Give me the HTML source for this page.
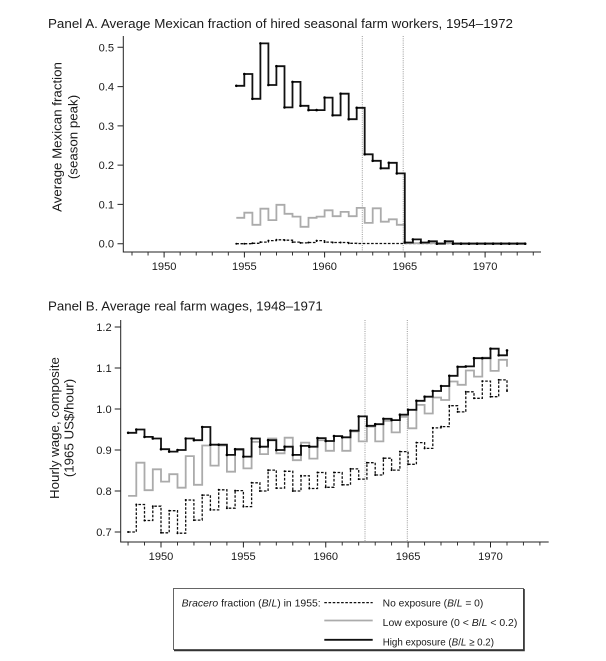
<!DOCTYPE html>
<html>
<head>
<meta charset="utf-8">
<style>
html,body{margin:0;padding:0;background:#fff;}
svg{display:block;font-family:"Liberation Sans",Arial,sans-serif;}
</style>
</head>
<body>
<svg width="606" height="661" viewBox="0 0 606 661" xmlns="http://www.w3.org/2000/svg">
<rect width="606" height="661" fill="#fff"/>

<!-- ===== Panel A ===== -->
<text x="48" y="28" font-size="13.3" fill="#1a1a1a" textLength="465" lengthAdjust="spacingAndGlyphs">Panel A. Average Mexican fraction of hired seasonal farm workers, 1954–1972</text>

<text transform="translate(61.5,137) rotate(-90)" text-anchor="middle" font-size="13.3" fill="#1a1a1a">Average Mexican fraction</text>
<text transform="translate(77.5,137) rotate(-90)" text-anchor="middle" font-size="13.3" fill="#1a1a1a">(season peak)</text>

<!-- reference lines -->
<path d="M362.3,36V251 M403.2,36V251" stroke="#9a9a9a" stroke-width="1" stroke-dasharray="1,1.2" fill="none"/>

<!-- axes -->
<path d="M123.3,36V252H541" stroke="#222" stroke-width="1" fill="none"/>
<path d="M117.5,243.7H123.3M117.5,204.4H123.3M117.5,165.1H123.3M117.5,125.9H123.3M117.5,86.6H123.3M117.5,47.3H123.3" stroke="#222" stroke-width="1"/>
<path d="M164.1,252V257.5M244.4,252V257.5M324.6,252V257.5M404.9,252V257.5M485.1,252V257.5" stroke="#222" stroke-width="1"/>
<path d="M132,252V255.5M148.05,252V255.5M180.15,252V255.5M196.2,252V255.5M212.25,252V255.5M228.3,252V255.5M260.4,252V255.5M276.45,252V255.5M292.5,252V255.5M308.55,252V255.5M340.65,252V255.5M356.7,252V255.5M372.75,252V255.5M388.8,252V255.5M420.9,252V255.5M436.95,252V255.5M453,252V255.5M469.05,252V255.5M501.15,252V255.5M517.2,252V255.5M533.25,252V255.5" stroke="#222" stroke-width="0.9"/>

<g font-size="11.1" fill="#1a1a1a" text-anchor="end">
<text x="114" y="247.7">0.0</text>
<text x="114" y="208.4">0.1</text>
<text x="114" y="169.1">0.2</text>
<text x="114" y="129.9">0.3</text>
<text x="114" y="90.6">0.4</text>
<text x="114" y="51.3">0.5</text>
</g>
<g font-size="11.1" fill="#1a1a1a" text-anchor="middle">
<text x="164.1" y="270">1950</text>
<text x="244.4" y="270">1955</text>
<text x="324.6" y="270">1960</text>
<text x="404.9" y="270">1965</text>
<text x="485.1" y="270">1970</text>
</g>

<!-- series A -->
<path d="M236.3,243.7H244.3V243.7H252.4V243.3H260.4V242.1H268.4V240.6H276.4V239.8H284.5V240.2H292.5V242.1H300.5V242.9H308.5V242.5H316.6V240.6H324.6V242.1H332.6V242.5H348.7V243.3H356.7V243.5H525.2" stroke="#111" stroke-width="1.3" stroke-dasharray="2.6,1.6" fill="none"/>
<path d="M236.3,217.8H244.3V212.7H252.4V224.8H260.4V208.7H268.4V220.1H276.4V204.8H284.5V213.8H292.5V216.6H300.5V226.8H308.5V217.8H316.6V216.6H324.6V210.3H332.6V216.2H340.6V211.9H348.7V216.2H356.7V207.9H364.7V222.9H372.7V208.3H380.8V221.7H388.8V219.3H396.8V224.8H404.8V243.2H525.2" stroke="#ababab" stroke-width="1.8" fill="none"/>
<path d="M236.3,85.8H244.3V74H252.4V98.8H260.4V43.4H268.4V85H276.4V66.2H284.5V107.4H292.5V81.9H300.5V105.8H308.5V110.1H316.6V110.1H324.6V97.6H332.6V115.3H340.6V93.7H348.7V119.2H356.7V107.8H364.7V154.3H372.7V160.8H380.8V168.3H388.8V162.8H396.8V173.4H404.8V242.5H412.9V239.4H420.9V242.5H428.9V241.3H436.9V243.7H445V241.3H453V243.7H525.2" stroke="#111" stroke-width="1.8" fill="none"/>
<path d="M236.3,85.8h0M244.3,74h0M252.4,98.8h0M260.4,43.4h0M268.4,85h0M276.4,66.2h0M284.5,107.4h0M292.5,81.9h0M300.5,105.8h0M308.5,110.1h0M316.6,110.1h0M324.6,97.6h0M332.6,115.3h0M340.6,93.7h0M348.7,119.2h0M356.7,107.8h0M364.7,154.3h0M372.7,160.8h0M380.8,168.3h0M388.8,162.8h0M396.8,173.4h0M404.8,242.5h0M412.9,239.4h0M420.9,242.5h0M428.9,241.3h0M436.9,243.7h0M445,241.3h0M453,243.7h0M461,243.7h0M469,243.7h0M477.1,243.7h0M485.1,243.7h0M493.1,243.7h0M501.1,243.7h0M509.2,243.7h0M517.2,243.7h0M525.2,243.7h0" stroke="#000" stroke-width="2.6" stroke-linecap="round" fill="none"/>
<path d="M236.3,243.7h0M244.3,243.7h0M252.4,243.3h0M260.4,242.1h0M268.4,240.6h0M276.4,239.8h0M284.5,240.2h0M292.5,242.1h0M300.5,242.9h0M308.5,242.5h0M316.6,240.6h0M324.6,242.1h0M332.6,242.5h0M340.6,242.5h0M348.7,243.3h0" stroke="#000" stroke-width="2" stroke-linecap="round" fill="none"/>

<!-- ===== Panel B ===== -->
<text x="48" y="310.5" font-size="13.3" fill="#1a1a1a">Panel B. Average real farm wages, 1948–1971</text>

<text transform="translate(58.8,428) rotate(-90)" text-anchor="middle" font-size="13.3" fill="#1a1a1a">Hourly wage, composite</text>
<text transform="translate(73.7,428) rotate(-90)" text-anchor="middle" font-size="13.3" fill="#1a1a1a">(1965 US$/hour)</text>

<path d="M365,320V541 M407.3,320V541" stroke="#9a9a9a" stroke-width="1" stroke-dasharray="1,1.2" fill="none"/>

<path d="M120.7,320V542H548.7" stroke="#222" stroke-width="1" fill="none"/>
<path d="M114.7,532H120.7M114.7,491H120.7M114.7,450H120.7M114.7,409H120.7M114.7,368H120.7M114.7,327H120.7" stroke="#222" stroke-width="1"/>
<path d="M161,542V547.5M243.4,542V547.5M325.75,542V547.5M408.1,542V547.5M490.5,542V547.5" stroke="#222" stroke-width="1"/>
<path d="M128.05,542V545.5M144.5,542V545.5M177.5,542V545.5M193.95,542V545.5M210.4,542V545.5M226.9,542V545.5M259.85,542V545.5M276.3,542V545.5M292.8,542V545.5M309.3,542V545.5M342.2,542V545.5M358.7,542V545.5M375.2,542V545.5M391.6,542V545.5M424.6,542V545.5M441,542V545.5M457.5,542V545.5M474,542V545.5M507,542V545.5M523.4,542V545.5M539.9,542V545.5" stroke="#222" stroke-width="0.9"/>

<g font-size="11.1" fill="#1a1a1a" text-anchor="end">
<text x="111.7" y="536">0.7</text>
<text x="111.7" y="495">0.8</text>
<text x="111.7" y="454">0.9</text>
<text x="111.7" y="413">1.0</text>
<text x="111.7" y="372">1.1</text>
<text x="111.7" y="331">1.2</text>
</g>
<g font-size="11.1" fill="#1a1a1a" text-anchor="middle">
<text x="161" y="560">1950</text>
<text x="243.4" y="560">1955</text>
<text x="325.75" y="560">1960</text>
<text x="408.1" y="560">1965</text>
<text x="490.5" y="560">1970</text>
</g>

<!-- series B -->
<path d="M128.1,532H136.3V504.5H144.5V520.5H152.8V506.2H161V532.8H169.2V510.7H177.5V533.2H185.7V500H193.9V520.1H202.2V495.1H210.4V509.9H218.7V489.8H226.9V508.2H235.1V490.6H243.4V506.6H251.6V482.8H259.9V491H268.1V470.1H276.3V488.1H284.6V471.3H292.8V491H301V475.8H309.3V488.5H317.5V472.5H325.7V487.3H334V472.5H342.2V484.8H350.5V468.9H358.7V479.1H366.9V462.7H375.2V475H383.4V458.2H391.6V470.1H399.9V451.6H408.1V464.3H416.4V442.6H424.6V448.4H432.8V427.9H441.1V426.6H449.3V405.7H457.6V411.9H465.8V391.8H474V398.3H482.3V381.1H490.5V396.7H498.7V379.9H507V391" stroke="#111" stroke-width="1.3" stroke-dasharray="2.6,1.6" fill="none"/>
<path d="M128.1,495.9H136.3V462.7H144.5V490.2H152.8V469.3H161V481.6H169.2V474.2H177.5V487.7H185.7V456.1H193.9V484.8H202.2V445.5H210.4V465.6H218.7V445.5H226.9V471.7H235.1V450H243.4V468.4H251.6V441.8H259.9V454.1H268.1V438.5H276.3V453.3H284.6V437.7H292.8V460.2H301V442.6H309.3V458.6H317.5V440.2H325.7V450.8H334V436.1H342.2V450.8H350.5V431.5H358.7V441.4H366.9V426.6H375.2V441.4H383.4V420.9H391.6V432.4H399.9V416.8H408.1V428.3H416.4V404.9H424.6V413.5H432.8V397.5H441.1V400H449.3V381.5H457.6V384.8H465.8V370.5H474V376.6H482.3V357.7H490.5V370.9H498.7V359.8H507V366.8" stroke="#ababab" stroke-width="1.8" fill="none"/>
<path d="M128.1,432.8H136.3V429.5H144.5V436.9H152.8V438.5H161V449.2H169.2V451.6H177.5V450H185.7V438.5H193.9V440.2H202.2V427H210.4V444.7H218.7V444.7H226.9V454.9H235.1V449.2H243.4V456.6H251.6V438.5H259.9V446.7H268.1V440.2H276.3V450H284.6V446.7H292.8V454.9H301V445.9H309.3V446.7H317.5V438.1H325.7V441H334V436.1H342.2V437.3H350.5V430.7H358.7V416.4H366.9V425.8H375.2V424.2H383.4V418.8H391.6V420.1H399.9V414.7H408.1V409.8H416.4V400.8H424.6V396.7H432.8V391H441.1V386H449.3V375.8H457.6V366.8H465.8V366.4H474V358.2H482.3V358.2H490.5V348.7H498.7V355.3H507V350.4" stroke="#111" stroke-width="1.8" fill="none"/>
<path d="M128.1,432.8h0M136.3,429.5h0M144.5,436.9h0M152.8,438.5h0M161,449.2h0M169.2,451.6h0M177.5,450h0M185.7,438.5h0M193.9,440.2h0M202.2,427h0M210.4,444.7h0M218.7,444.7h0M226.9,454.9h0M235.1,449.2h0M243.4,456.6h0M251.6,438.5h0M259.9,446.7h0M268.1,440.2h0M276.3,450h0M284.6,446.7h0M292.8,454.9h0M301,445.9h0M309.3,446.7h0M317.5,438.1h0M325.7,441h0M334,436.1h0M342.2,437.3h0M350.5,430.7h0M358.7,416.4h0M366.9,425.8h0M375.2,424.2h0M383.4,418.8h0M391.6,420.1h0M399.9,414.7h0M408.1,409.8h0M416.4,400.8h0M424.6,396.7h0M432.8,391h0M441.1,386h0M449.3,375.8h0M457.6,366.8h0M465.8,366.4h0M474,358.2h0M482.3,358.2h0M490.5,348.7h0M498.7,355.3h0M507,350.4h0" stroke="#000" stroke-width="2.6" stroke-linecap="round" fill="none"/>
<path d="M128.1,532h0M136.3,504.5h0M144.5,520.5h0M152.8,506.2h0M161,532.8h0M169.2,510.7h0M177.5,533.2h0M185.7,500h0M193.9,520.1h0M202.2,495.1h0M210.4,509.9h0M218.7,489.8h0M226.9,508.2h0M235.1,490.6h0M243.4,506.6h0M251.6,482.8h0M259.9,491h0M268.1,470.1h0M276.3,488.1h0M284.6,471.3h0M292.8,491h0M301,475.8h0M309.3,488.5h0M317.5,472.5h0M325.7,487.3h0M334,472.5h0M342.2,484.8h0M350.5,468.9h0M358.7,479.1h0M366.9,462.7h0M375.2,475h0M383.4,458.2h0M391.6,470.1h0M399.9,451.6h0M408.1,464.3h0M416.4,442.6h0M424.6,448.4h0M432.8,427.9h0M441.1,426.6h0M449.3,405.7h0M457.6,411.9h0M465.8,391.8h0M474,398.3h0M482.3,381.1h0M490.5,396.7h0M498.7,379.9h0M507,391h0" stroke="#000" stroke-width="2" stroke-linecap="round" fill="none"/>

<!-- ===== Legend ===== -->
<rect x="173.5" y="588.5" width="350" height="61" fill="#fff" stroke="#555" stroke-width="0.9"/>
<path d="M524,589V650.5H174" stroke="#333" stroke-width="1.6" fill="none"/>
<text x="181.7" y="606.5" font-size="10.2" fill="#1a1a1a" textLength="139" lengthAdjust="spacingAndGlyphs"><tspan font-style="italic">Bracero</tspan> fraction (<tspan font-style="italic">B</tspan>/<tspan font-style="italic">L</tspan>) in 1955:</text>
<path d="M324.3,602.6H372.7" stroke="#111" stroke-width="1.3" stroke-dasharray="2.6,1.6"/>
<path d="M324.3,620.5H372.7" stroke="#ababab" stroke-width="1.8"/>
<path d="M324.3,639.8H372.7" stroke="#111" stroke-width="1.8"/>
<text x="382.7" y="606.5" font-size="10.2" fill="#1a1a1a" textLength="100.6" lengthAdjust="spacingAndGlyphs">No exposure (<tspan font-style="italic">B</tspan>/<tspan font-style="italic">L</tspan> = 0)</text>
<text x="382.7" y="626" font-size="10.2" fill="#1a1a1a" textLength="134.6" lengthAdjust="spacingAndGlyphs">Low exposure (0 &lt; <tspan font-style="italic">B</tspan>/<tspan font-style="italic">L</tspan> &lt; 0.2)</text>
<text x="382.7" y="645.5" font-size="10.2" fill="#1a1a1a" textLength="111.3" lengthAdjust="spacingAndGlyphs">High exposure (<tspan font-style="italic">B</tspan>/<tspan font-style="italic">L</tspan> ≥ 0.2)</text>
</svg>
</body>
</html>
